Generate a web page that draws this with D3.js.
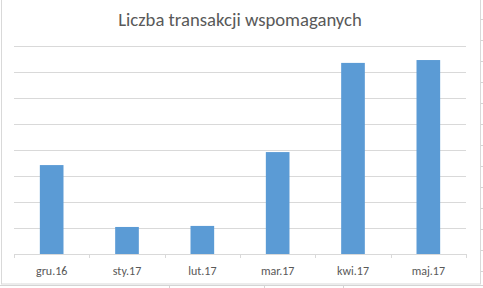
<!DOCTYPE html>
<html>
<head>
<meta charset="utf-8">
<script src="https://cdn.jsdelivr.net/npm/d3@7"></script>
<style>
  body { margin: 0; background: #fff; }
  svg { display: block; }
</style>
</head>
<body>
<div id="chart-area"></div>
<script>
// data (units of gridlines x100, y axis has no labels)
const months = ["gru.16", "sty.17", "lut.17", "mar.17", "kwi.17", "maj.17"];
const transactions = [342, 104, 108, 392, 735, 746];
const yTicks = [0, 100, 200, 300, 400, 500, 600, 700, 800];
const title = "Liczba transakcji wspomaganych";

const W = 483, H = 288;
const margin = {left: 14, right: 17, top: 46, bottom: 34};
const width = W - margin.left - margin.right;
const height = H - margin.top - margin.bottom;

const root = d3.select("#chart-area")
  .append("svg")
  .attr("width", W)
  .attr("height", H);

// spreadsheet cell lines peeking out around the chart
const cellRows = d3.range(19, 288, 21);
root.selectAll(".cell-tick").data(cellRows).enter().append("line")
  .attr("x1", 481).attr("x2", 483)
  .attr("y1", d => d + 0.5).attr("y2", d => d + 0.5)
  .attr("stroke", "#d4d4d4");
root.append("line")
  .attr("x1", 0).attr("x2", 483).attr("y1", 285.5).attr("y2", 285.5)
  .attr("stroke", "#d4d4d4");
root.selectAll(".cell-col").data([169, 264, 343]).enter().append("line")
  .attr("x1", d => d + 0.5).attr("x2", d => d + 0.5)
  .attr("y1", 285).attr("y2", 288)
  .attr("stroke", "#d4d4d4");

// chart area frame
root.append("rect")
  .attr("x", 1.5).attr("y", -1)
  .attr("width", 479).attr("height", 285)
  .attr("fill", "#fff")
  .attr("stroke", "#d9d9d9");

root.append("text")
  .attr("x", 240)
  .attr("y", 26)
  .attr("text-anchor", "middle")
  .attr("font-family", "Calibri, Carlito, Lato, sans-serif")
  .attr("font-size", "18.7px")
  .attr("fill", "#595959")
  .text(title);

const svg = root.append("g")
  .attr("transform", `translate(${margin.left}, ${margin.top})`);

//x scale
const x = d3.scaleBand()
  .domain(months)
  .range([0, width])
  .paddingInner(0.686)
  .paddingOuter(0.343);

//y scale
const y = d3.scaleLinear()
  .domain([0, 800])
  .range([height, 0]);

// gridlines
svg.selectAll(".grid").data(yTicks.slice(1)).enter().append("line")
  .attr("x1", 0).attr("x2", width)
  .attr("y1", d => Math.round(y(d)) + 0.5)
  .attr("y2", d => Math.round(y(d)) + 0.5)
  .attr("stroke", "#d9d9d9");

svg.selectAll(".bar").data(transactions).enter().append("rect")
  .attr("x", (d, i) => x(months[i]))
  .attr("y", d => y(d))
  .attr("width", x.bandwidth())
  .attr("height", d => height - y(d))
  .attr("fill", "#5b9bd5");

// x axis
const step = width / months.length;
const xAxis = d3.axisBottom(x).tickSize(0).tickPadding(12);
const gx = svg.append("g")
  .attr("transform", `translate(0, ${height})`)
  .call(xAxis);
gx.select(".domain").attr("stroke", "#d9d9d9")
  .attr("d", `M0,0.5H${width}`);
gx.selectAll(".tick text")
  .attr("font-family", "Calibri, Carlito, Lato, sans-serif")
  .attr("font-size", "12px")
  .attr("fill", "#595959");
gx.selectAll(".sep").data(d3.range(months.length + 1)).enter().append("line")
  .attr("x1", i => Math.round(i * step) + 0.5)
  .attr("x2", i => Math.round(i * step) + 0.5)
  .attr("y1", 0).attr("y2", 4)
  .attr("stroke", "#d9d9d9");
</script>
</body>
</html>
